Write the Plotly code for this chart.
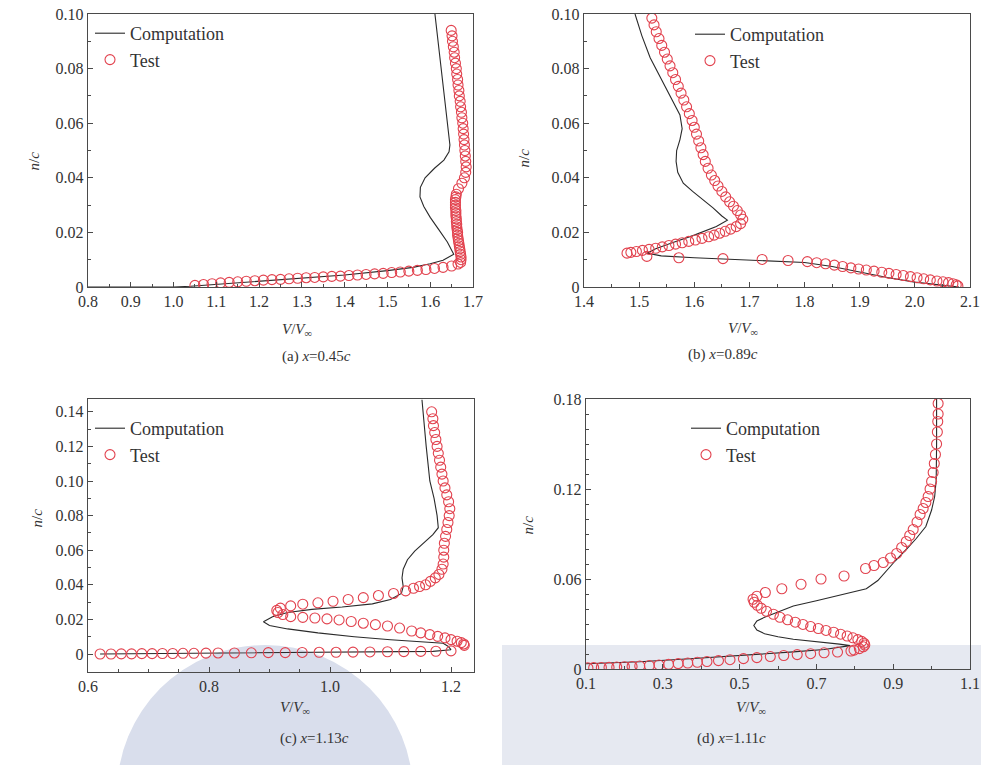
import plotly.graph_objects as go

W, H = 981, 765
SERIF = "Liberation Serif, Times New Roman, serif"

# ---------------- Panel (a) x = 0.45c ----------------
a_comp_v = [0.80, 0.90, 1.00, 1.04, 1.10, 1.20, 1.30, 1.40, 1.50, 1.56, 1.60, 1.63, 1.655,
            1.640, 1.620, 1.600, 1.585, 1.576, 1.577, 1.588, 1.610, 1.632, 1.644, 1.646, 1.611]
a_comp_n = [0.0, 0.0, 0.0, 0.0003, 0.0010, 0.0020, 0.0031, 0.0044, 0.0060, 0.0072, 0.0085, 0.0098, 0.0120,
            0.0165, 0.0210, 0.0255, 0.0295, 0.0330, 0.0365, 0.0400, 0.0435, 0.0465, 0.0495, 0.0520, 0.1000]

a_test_v = [1.05, 1.07, 1.09, 1.11, 1.13, 1.15, 1.17, 1.19, 1.21, 1.23, 1.25, 1.27, 1.29, 1.31, 1.33,
            1.35, 1.37, 1.39, 1.41, 1.43, 1.45, 1.47, 1.49, 1.51, 1.53, 1.55, 1.57, 1.59, 1.61, 1.63,
            1.65, 1.665,
            1.671, 1.672, 1.672, 1.671, 1.670, 1.669, 1.668, 1.667, 1.666, 1.665, 1.664, 1.664, 1.663,
            1.662, 1.662, 1.661, 1.661, 1.660, 1.660, 1.660, 1.659, 1.659, 1.659, 1.659, 1.660, 1.661,
            1.666, 1.674, 1.680, 1.683, 1.684, 1.683, 1.682, 1.681, 1.680, 1.679, 1.678, 1.677, 1.676,
            1.674, 1.673, 1.671, 1.670, 1.668, 1.667, 1.665, 1.664, 1.662, 1.661, 1.659, 1.657, 1.656,
            1.654, 1.652, 1.651, 1.649]
a_test_n = [0.0006, 0.0009, 0.0012, 0.0015, 0.0017, 0.0019, 0.0021, 0.0023, 0.0025, 0.0027, 0.0028,
            0.0030, 0.0032, 0.0034, 0.0035, 0.0037, 0.0039, 0.0040, 0.0042, 0.0044, 0.0046, 0.0048,
            0.0050, 0.0053, 0.0055, 0.0058, 0.0061, 0.0064, 0.0068, 0.0072, 0.0077, 0.0084,
            0.009, 0.010, 0.011, 0.012, 0.013, 0.014, 0.015, 0.016, 0.017, 0.018, 0.019, 0.020, 0.021,
            0.022, 0.023, 0.024, 0.025, 0.026, 0.027, 0.028, 0.029, 0.030, 0.031, 0.032, 0.033, 0.034,
            0.036, 0.038, 0.040, 0.042, 0.044, 0.046, 0.048, 0.050, 0.052, 0.054, 0.056, 0.058, 0.060,
            0.062, 0.064, 0.066, 0.068, 0.070, 0.072, 0.074, 0.076, 0.078, 0.080, 0.082, 0.084, 0.086,
            0.088, 0.090, 0.092, 0.094]

# ---------------- Panel (b) x = 0.89c ----------------
b_comp_v = [1.4925, 1.505, 1.520, 1.535, 1.550, 1.563, 1.574, 1.578, 1.574, 1.568, 1.567, 1.570,
            1.580, 1.597, 1.616, 1.634, 1.650, 1.660, 1.640, 1.600, 1.560, 1.530, 1.514, 1.540,
            1.600, 1.700, 1.800, 1.850, 1.900, 1.950, 2.000, 2.050, 2.080]
b_comp_n = [0.100, 0.092, 0.084, 0.078, 0.072, 0.067, 0.063, 0.058, 0.054, 0.050, 0.046, 0.042,
            0.038, 0.035, 0.032, 0.029, 0.026, 0.0245, 0.0222, 0.0190, 0.0162, 0.0140, 0.0124, 0.0114,
            0.0107, 0.0099, 0.0090, 0.0075, 0.0055, 0.0035, 0.0018, 0.0006, 0.0]

b_test_v = [1.523, 1.527, 1.531, 1.536, 1.541, 1.546, 1.551, 1.556, 1.561, 1.566, 1.571, 1.576,
            1.581, 1.586, 1.591, 1.596, 1.600, 1.604, 1.608, 1.612, 1.616, 1.620, 1.625, 1.631,
            1.637, 1.643, 1.650, 1.657, 1.664, 1.671, 1.678, 1.684, 1.688,
            1.684, 1.676, 1.666, 1.656, 1.646, 1.636, 1.626, 1.614, 1.602, 1.590, 1.578, 1.566, 1.554,
            1.542, 1.530, 1.518, 1.506, 1.495, 1.485, 1.478,
            1.514, 1.572, 1.652, 1.723, 1.770,
            1.805, 1.822, 1.838, 1.854, 1.869, 1.884, 1.898, 1.912, 1.926, 1.940, 1.953, 1.966,
            1.979, 1.992, 2.004, 2.016, 2.028, 2.040, 2.051, 2.061, 2.069, 2.075, 2.078]
b_test_n = [0.0985, 0.0960, 0.0935, 0.0910, 0.0885, 0.0860, 0.0835, 0.0810, 0.0785, 0.0760, 0.0735,
            0.0710, 0.0685, 0.0660, 0.0635, 0.0610, 0.0585, 0.0560, 0.0535, 0.0510, 0.0485, 0.0460,
            0.0435, 0.0410, 0.0390, 0.0370, 0.0350, 0.0330, 0.0312, 0.0296, 0.0280, 0.0264, 0.0248,
            0.0232, 0.0221, 0.0212, 0.0204, 0.0197, 0.0190, 0.0184, 0.0178, 0.0172, 0.0167, 0.0162,
            0.0157, 0.0152, 0.0147, 0.0142, 0.0138, 0.0134, 0.0130, 0.0127, 0.0124,
            0.0112, 0.0107, 0.0104, 0.0101, 0.0097,
            0.0093, 0.0089, 0.0085, 0.0080, 0.0075, 0.0070, 0.0066, 0.0062, 0.0058, 0.0054, 0.0050,
            0.0046, 0.0042, 0.0038, 0.0034, 0.0030, 0.0026, 0.0022, 0.0019, 0.0016, 0.0012, 0.0008,
            0.0004]

# ---------------- Panel (c) x = 1.13c ----------------
c_comp_v = [0.620, 0.700, 0.800, 0.900, 1.000, 1.100, 1.170, 1.200, 1.195, 1.187, 1.150, 1.100,
            1.040, 0.980, 0.930, 0.900, 0.890, 0.905, 0.930, 0.970, 1.020, 1.070, 1.100, 1.118,
            1.121, 1.119, 1.121, 1.128, 1.140, 1.155, 1.170, 1.179, 1.177, 1.172, 1.165, 1.159, 1.152]
c_comp_n = [0.0000, 0.0002, 0.0004, 0.0006, 0.0008, 0.0011, 0.0015, 0.0025, 0.0045, 0.0062, 0.0070,
            0.0082, 0.0100, 0.0122, 0.0145, 0.0165, 0.0186, 0.0215, 0.0240, 0.0258, 0.0272, 0.0290,
            0.0315, 0.0350, 0.0390, 0.0440, 0.0490, 0.0545, 0.0595, 0.0640, 0.0690, 0.0730, 0.0800,
            0.0900, 0.1000, 0.1200, 0.1470]

c_test_v = [1.168, 1.170, 1.171, 1.173, 1.175, 1.177, 1.179, 1.181, 1.183, 1.185, 1.187, 1.190,
            1.193, 1.196, 1.198, 1.197, 1.195, 1.193, 1.191, 1.189, 1.188, 1.188, 1.187, 1.185,
            1.180, 1.174, 1.166, 1.158, 1.148, 1.138,
            1.125, 1.105, 1.080, 1.055, 1.030, 1.005, 0.980, 0.955, 0.935,
            0.918, 0.912, 0.914, 0.922,
            0.935, 0.955, 0.975, 0.995, 1.015, 1.035, 1.055, 1.075, 1.095, 1.115, 1.135, 1.150,
            1.165, 1.178, 1.190, 1.200, 1.210, 1.217, 1.221, 1.222,
            1.200, 1.175, 1.150, 1.122, 1.095, 1.066, 1.038, 1.010, 0.982, 0.954, 0.926, 0.898,
            0.870, 0.842, 0.815, 0.795, 0.775, 0.757, 0.740, 0.723, 0.706, 0.689, 0.672, 0.655,
            0.638, 0.620]
c_test_n = [0.140, 0.136, 0.132, 0.128, 0.124, 0.120, 0.116, 0.112, 0.108, 0.104, 0.100, 0.096,
            0.092, 0.088, 0.084, 0.080, 0.076, 0.072, 0.068, 0.064, 0.060, 0.056, 0.052, 0.049,
            0.046, 0.044, 0.042, 0.040, 0.039, 0.038,
            0.0365, 0.0350, 0.0338, 0.0326, 0.0315, 0.0305, 0.0296, 0.0288, 0.0278,
            0.0265, 0.0252, 0.0240, 0.0228,
            0.0216, 0.0212, 0.0208, 0.0203, 0.0197, 0.0188, 0.0178, 0.0170, 0.0162, 0.0150, 0.0133,
            0.0122, 0.0112, 0.0102, 0.0093, 0.0083, 0.0074, 0.0066, 0.0058, 0.0050,
            0.0018, 0.0016, 0.0015, 0.0014, 0.0013, 0.0012, 0.0011, 0.0010, 0.0010, 0.0009, 0.0008,
            0.0008, 0.0007, 0.0006, 0.0006, 0.0005, 0.0004, 0.0004, 0.0003, 0.0003, 0.0002, 0.0002,
            0.0001, 0.0001, 0.0000, 0.0000]

# ---------------- Panel (d) x = 1.11c ----------------
d_comp_v = [0.100, 0.240, 0.371, 0.460, 0.545, 0.640, 0.720, 0.788, 0.760, 0.700, 0.640, 0.600,
            0.565, 0.545, 0.537, 0.545, 0.565, 0.600, 0.640, 0.700, 0.760, 0.830, 0.860, 0.880,
            0.905, 0.935, 0.960, 0.985, 1.000, 1.008, 1.012, 1.013, 1.013]
d_comp_n = [0.0035, 0.0048, 0.0068, 0.0082, 0.0098, 0.0114, 0.0130, 0.0156, 0.0166, 0.0180, 0.0198,
            0.0215, 0.0235, 0.0260, 0.0290, 0.0320, 0.0345, 0.0380, 0.0420, 0.0455, 0.0490, 0.0535,
            0.0590, 0.0650, 0.0720, 0.0800, 0.0870, 0.0950, 0.1060, 0.1150, 0.1260, 0.1500, 0.1800]

d_test_v = [1.017, 1.017, 1.016, 1.015, 1.013, 1.010, 1.007, 1.004, 1.000, 0.996, 0.991, 0.985,
            0.978, 0.970, 0.962, 0.952, 0.943, 0.934, 0.922, 0.909, 0.893, 0.874, 0.850, 0.828,
            0.772, 0.712, 0.660, 0.610, 0.567, 0.545, 0.535, 0.538,
            0.546, 0.556, 0.570, 0.588, 0.605, 0.625, 0.645, 0.665, 0.685, 0.705, 0.725, 0.745,
            0.763, 0.780, 0.795, 0.808, 0.818, 0.824, 0.826, 0.822, 0.812, 0.798,
            0.790, 0.755, 0.720, 0.685, 0.650, 0.615, 0.580, 0.545, 0.510, 0.475, 0.445, 0.415,
            0.390, 0.365, 0.340, 0.315, 0.290, 0.265, 0.240, 0.220, 0.200, 0.180, 0.160, 0.140,
            0.120, 0.105]
d_test_n = [0.177, 0.170, 0.165, 0.158, 0.150, 0.143, 0.137, 0.131, 0.125, 0.120, 0.115, 0.111,
            0.107, 0.103, 0.098, 0.093, 0.089, 0.085, 0.081, 0.077, 0.074, 0.071, 0.069, 0.067,
            0.062, 0.060, 0.0565, 0.0535, 0.0510, 0.0485, 0.0465, 0.0445,
            0.0425, 0.0405, 0.0385, 0.0365, 0.0345, 0.0328, 0.0312, 0.0297, 0.0283, 0.0270, 0.0257,
            0.0245, 0.0232, 0.0220, 0.0208, 0.0196, 0.0184, 0.0172, 0.0160, 0.0148, 0.0136, 0.0126,
            0.0120, 0.0113, 0.0108, 0.0102, 0.0096, 0.0090, 0.0083, 0.0076, 0.0069, 0.0062, 0.0056,
            0.0050, 0.0045, 0.0040, 0.0036, 0.0031, 0.0027, 0.0023, 0.0020, 0.0017, 0.0015, 0.0013,
            0.0011, 0.0010, 0.0009, 0.0008]

# ---------------- axis ticks / labels ----------------
a_xticks = [0.8, 0.9, 1.0, 1.1, 1.2, 1.3, 1.4, 1.5, 1.6, 1.7]
a_xlabels = ["0.8", "0.9", "1.0", "1.1", "1.2", "1.3", "1.4", "1.5", "1.6", "1.7"]
b_xticks = [1.4, 1.5, 1.6, 1.7, 1.8, 1.9, 2.0, 2.1]
b_xlabels = ["1.4", "1.5", "1.6", "1.7", "1.8", "1.9", "2.0", "2.1"]
ab_yticks = [0, 0.02, 0.04, 0.06, 0.08, 0.10]
ab_ylabels = ["0", "0.02", "0.04", "0.06", "0.08", "0.10"]
c_xticks = [0.6, 0.8, 1.0, 1.2]
c_xlabels = ["0.6", "0.8", "1.0", "1.2"]
c_yticks = [0, 0.02, 0.04, 0.06, 0.08, 0.10, 0.12, 0.14]
c_ylabels = ["0", "0.02", "0.04", "0.06", "0.08", "0.10", "0.12", "0.14"]
d_xticks = [0.1, 0.3, 0.5, 0.7, 0.9, 1.1]
d_xlabels = ["0.1", "0.3", "0.5", "0.7", "0.9", "1.1"]
d_yticks = [0, 0.06, 0.12, 0.18]
d_ylabels = ["0", "0.06", "0.12", "0.18"]

captions = ["(a) <i>x</i>=0.45<i>c</i>", "(b) <i>x</i>=0.89<i>c</i>",
            "(c) <i>x</i>=1.13<i>c</i>", "(d) <i>x</i>=1.11<i>c</i>"]

LINE_C = "#2a2a2a"
RED = "#e2424e"
AX_C = "#4a4a4a"
TXT_C = "#333333"

fig = go.Figure()

panels = [
    ("x", "y", "legend", a_comp_v, a_comp_n, a_test_v, a_test_n),
    ("x2", "y2", "legend2", b_comp_v, b_comp_n, b_test_v, b_test_n),
    ("x3", "y3", "legend3", c_comp_v, c_comp_n, c_test_v, c_test_n),
    ("x4", "y4", "legend4", d_comp_v, d_comp_n, d_test_v, d_test_n),
]
for i, (xa, ya, lg, cv, cn, tv, tn) in enumerate(panels):
    fig.add_trace(go.Scatter(x=cv, y=cn, mode="lines", name="Computation",
                             line=dict(color=LINE_C, width=1.1),
                             xaxis=xa, yaxis=ya, legend=lg, legendgroup=f"c{i}"))
    fig.add_trace(go.Scatter(x=tv, y=tn, mode="markers", name="Test",
                             marker=dict(symbol="circle-open", size=10, color=RED,
                                         line=dict(width=1.1, color=RED)),
                             xaxis=xa, yaxis=ya, legend=lg, legendgroup=f"t{i}"))


def px(p):
    return p / W


def py(p):
    return 1 - p / H


axis_common = dict(showline=True, mirror=True, linecolor=AX_C, linewidth=1.2,
                   ticks="inside", ticklen=5, tickcolor=AX_C, tickwidth=1,
                   showgrid=False, zeroline=False, automargin=False,
                   tickfont=dict(family=SERIF, size=16, color=TXT_C))

minor_x = dict(ticks="inside", ticklen=3, tickcolor=AX_C)

layout_axes = {
    "xaxis": dict(domain=[px(88), px(473)], range=[0.8, 1.7], tickvals=a_xticks, ticktext=a_xlabels,
                  minor=dict(dtick=0.05, **minor_x), anchor="y", **axis_common),
    "yaxis": dict(domain=[py(287), py(14)], range=[0, 0.1], tickvals=ab_yticks, ticktext=ab_ylabels,
                  minor=dict(dtick=0.01, **minor_x), anchor="x", **axis_common),
    "xaxis2": dict(domain=[px(584), px(970)], range=[1.4, 2.1], tickvals=b_xticks, ticktext=b_xlabels,
                   minor=dict(dtick=0.05, **minor_x), anchor="y2", **axis_common),
    "yaxis2": dict(domain=[py(287), py(14)], range=[0, 0.1], tickvals=ab_yticks, ticktext=ab_ylabels,
                   minor=dict(dtick=0.01, **minor_x), anchor="x2", **axis_common),
    "xaxis3": dict(domain=[px(88), px(474)], range=[0.6, 1.238], tickvals=c_xticks, ticktext=c_xlabels,
                   minor=dict(dtick=0.05, **minor_x), anchor="y3", **axis_common),
    "yaxis3": dict(domain=[py(672), py(399)], range=[-0.0104, 0.1474], tickvals=c_yticks, ticktext=c_ylabels,
                   minor=dict(dtick=0.01, **minor_x), anchor="x3", **axis_common),
    "xaxis4": dict(domain=[px(586), px(970)], range=[0.1, 1.1], tickvals=d_xticks, ticktext=d_xlabels,
                   minor=dict(dtick=0.1, **minor_x), anchor="y4", **axis_common),
    "yaxis4": dict(domain=[py(669), py(399)], range=[0, 0.18], tickvals=d_yticks, ticktext=d_ylabels,
                   minor=dict(dtick=0.01, **minor_x), anchor="x4", **axis_common),
}

legend_common = dict(xanchor="left", yanchor="top", bgcolor="rgba(0,0,0,0)",
                     font=dict(family=SERIF, size=18, color=TXT_C), tracegroupgap=0,
                     itemwidth=30, traceorder="grouped")

annotations = []
for (cx, ty, cy, cap) in [(280, 330, 356, captions[0]), (760, 329, 354, captions[1]),
                          (278, 719, 749, captions[2]), (768, 719, 749, captions[3])]:
    annotations.append(dict(x=px(cx), y=py(ty), xref="paper", yref="paper", showarrow=False,
                            text="<i>V</i>/<i>V</i><sub>∞</sub>",
                            font=dict(family=SERIF, size=15, color=TXT_C)))
    annotations.append(dict(x=px(cx), y=py(cy), xref="paper", yref="paper", showarrow=False,
                            text=cap, font=dict(family=SERIF, size=15, color=TXT_C)))
for (cx, cy) in [(24, 150), (523, 147), (26, 530), (527, 537)]:
    annotations.append(dict(x=px(cx), y=py(cy), xref="paper", yref="paper", showarrow=False,
                            text="<i>n</i>/<i>c</i>", textangle=-90,
                            font=dict(family=SERIF, size=15, color=TXT_C)))

# faint background watermark (as in the scanned source)
shapes = [
    dict(type="rect", xref="paper", yref="paper", x0=px(502), x1=1, y0=0, y1=py(645),
         fillcolor="#e6e9f1", line=dict(width=0), layer="below"),
    dict(type="circle", xref="paper", yref="paper", x0=px(265 - 148), x1=px(265 + 148),
         y0=py(793 + 148), y1=py(793 - 148), fillcolor="#d9deec", line=dict(width=0), layer="below"),
]

fig.update_layout(
    width=W, height=H,
    margin=dict(l=0, r=0, t=0, b=0, pad=0, autoexpand=False),
    paper_bgcolor="white", plot_bgcolor="rgba(0,0,0,0)",
    showlegend=True,
    legend=dict(x=px(90), y=py(15), **legend_common),
    legend2=dict(x=px(690), y=py(16), **legend_common),
    legend3=dict(x=px(90), y=py(410), **legend_common),
    legend4=dict(x=px(686), y=py(410), **legend_common),
    annotations=annotations,
    shapes=shapes,
    **layout_axes,
)

fig.write_html("out.html",
               config={"displayModeBar": False, "staticPlot": True},
               post_script="document.body.style.margin='0px';document.body.style.padding='0px';"
                           "document.documentElement.style.overflow='hidden';")
